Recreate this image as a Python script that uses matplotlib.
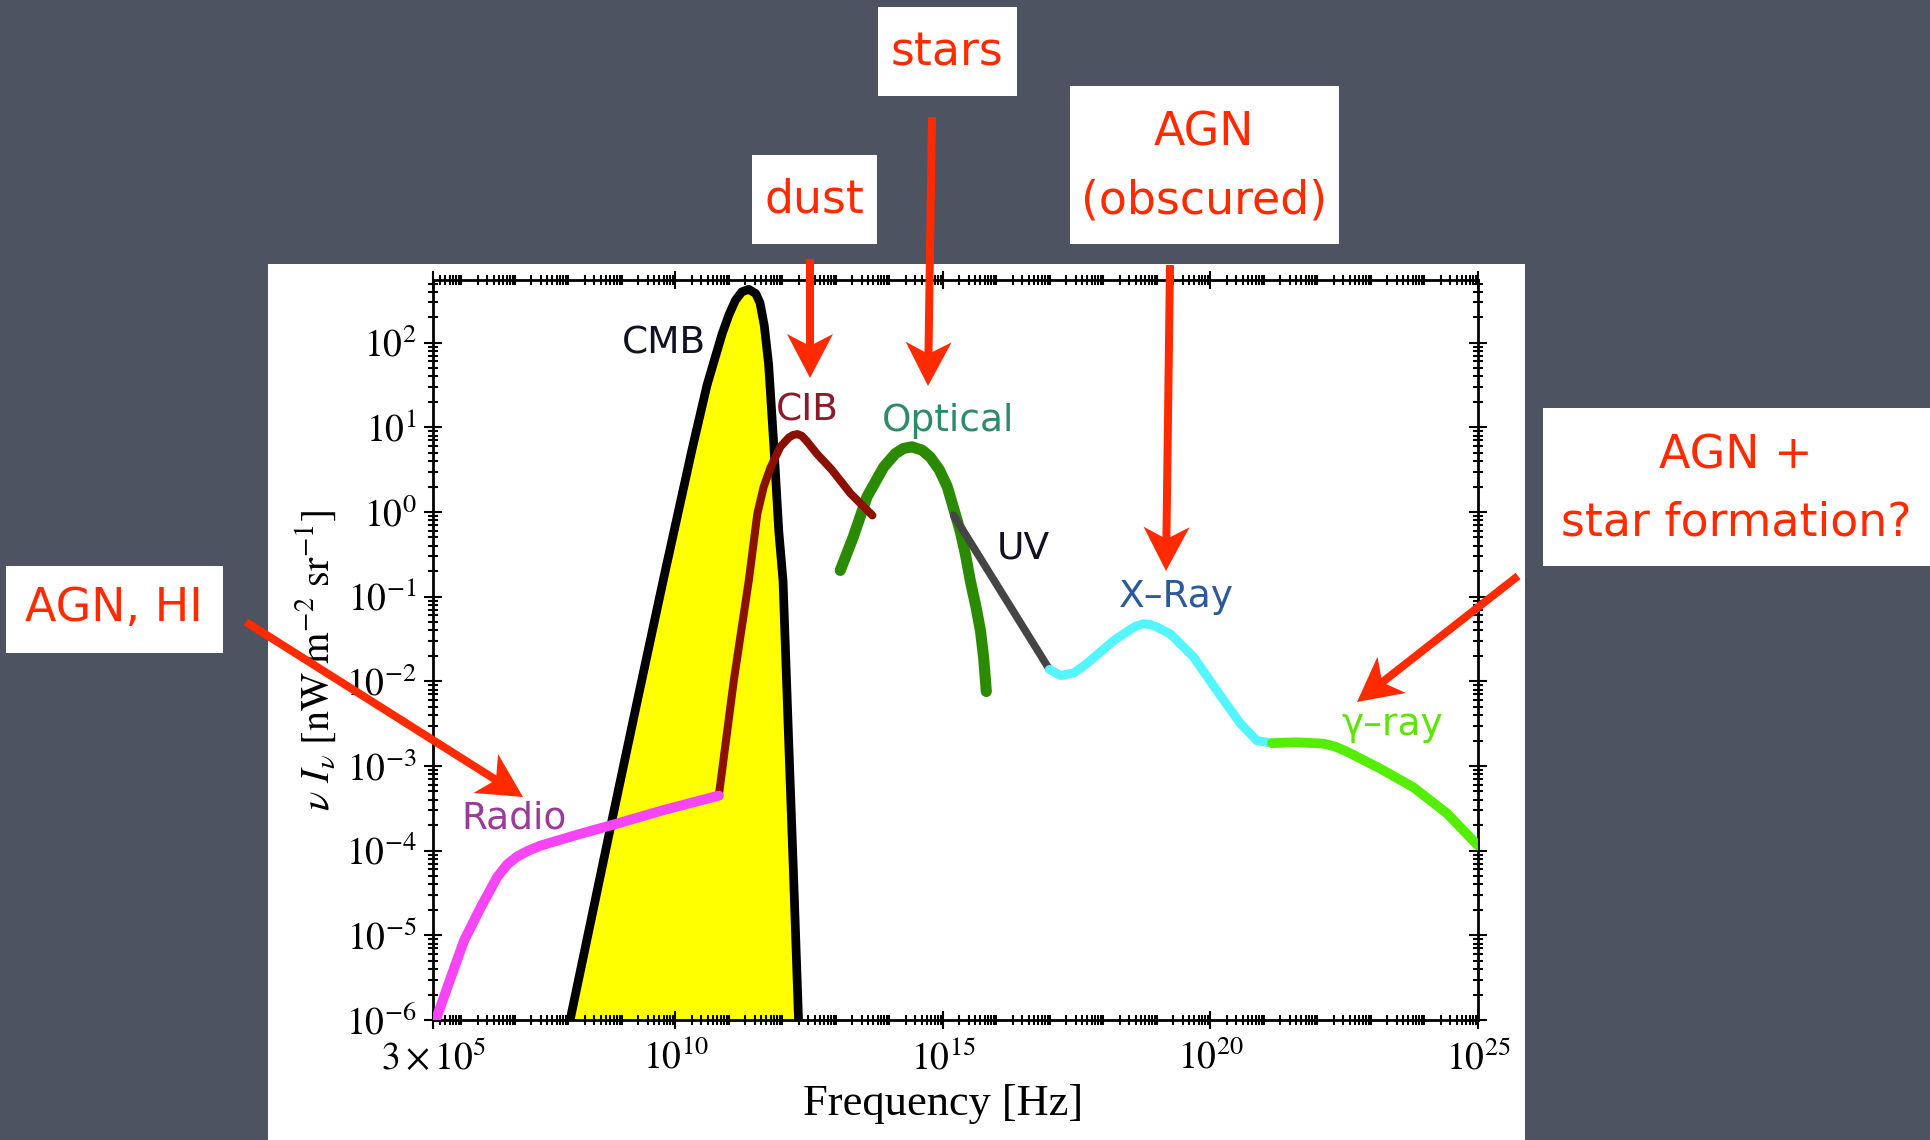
import numpy as np
import matplotlib
matplotlib.use("Agg")
import matplotlib.pyplot as plt
from matplotlib.patches import Rectangle, Polygon
from matplotlib.lines import Line2D
from matplotlib.ticker import LogLocator, FixedLocator, FixedFormatter, NullFormatter

plt.rcParams['mathtext.fontset'] = 'stix'
plt.rcParams['font.family'] = ['DejaVu Sans']

# log10(frequency [Hz]) and log10(nu I_nu [nW m^-2 sr^-1])
radio_lognu = [5.52, 5.80, 6.05, 6.36, 6.67, 6.86, 7.04, 7.25, 7.48, 8.23, 8.91, 9.78, 10.81]
radio_logI = [-6.0, -5.50, -5.06, -4.67, -4.31, -4.16, -4.07, -4.00, -3.94, -3.80, -3.68, -3.52, -3.35]

cmb_lognu = [8.03, 8.82, 9.28, 9.78, 10.31, 10.59, 10.87, 11.00, 11.12, 11.24, 11.37, 11.50,
             11.58, 11.66, 11.74, 11.84, 11.93, 12.01, 12.12, 12.21, 12.30]
cmb_logI = [-6.0, -3.62, -2.25, -0.78, 0.74, 1.50, 2.10, 2.33, 2.50, 2.60, 2.63, 2.58,
            2.47, 2.20, 1.75, 0.77, -0.22, -0.81, -2.78, -4.35, -6.0]

cib_lognu = [10.81, 11.09, 11.37, 11.53, 11.65, 11.78, 11.96, 12.12, 12.20, 12.28, 12.36,
             12.45, 12.64, 12.92, 13.27, 13.68]
cib_logI = [-3.35, -1.99, -0.81, -0.02, 0.30, 0.53, 0.77, 0.88, 0.91, 0.92, 0.90,
            0.84, 0.69, 0.50, 0.22, -0.04]

opt_lognu = [13.08, 13.32, 13.58, 13.89, 14.11, 14.26, 14.42, 14.61, 14.76, 14.93, 15.08,
             15.20, 15.32, 15.42, 15.51, 15.62, 15.70, 15.76, 15.81]
opt_logI = [-0.69, -0.30, 0.18, 0.53, 0.69, 0.75, 0.77, 0.73, 0.65, 0.50, 0.30,
            0.04, -0.22, -0.50, -0.81, -1.13, -1.40, -1.72, -2.12]

uv_lognu = [15.20, 16.99]
uv_logI = [-0.04, -1.86]

xray_lognu = [16.99, 17.20, 17.45, 17.69, 18.19, 18.47, 18.60, 18.75, 18.88, 19.00, 19.25,
              19.68, 20.12, 20.56, 20.87, 21.15]
xray_logI = [-1.86, -1.93, -1.90, -1.79, -1.52, -1.40, -1.35, -1.32, -1.33, -1.36, -1.44,
             -1.71, -2.11, -2.50, -2.70, -2.73]

gamma_lognu = [21.15, 21.61, 22.11, 22.33, 22.55, 23.17, 23.79, 24.42, 25.0]
gamma_logI = [-2.73, -2.72, -2.735, -2.77, -2.83, -3.03, -3.25, -3.56, -3.94]

xtick_vals = [3e5, 1e10, 1e15, 1e20, 1e25]
xtick_labels = [r'$3\times10^{5}$', r'$10^{10}$', r'$10^{15}$', r'$10^{20}$', r'$10^{25}$']
ytick_vals = [1e-6, 1e-5, 1e-4, 1e-3, 1e-2, 1e-1, 1e0, 1e1, 1e2]
ytick_labels = [r'$10^{-6}$', r'$10^{-5}$', r'$10^{-4}$', r'$10^{-3}$', r'$10^{-2}$',
                r'$10^{-1}$', r'$10^{0}$', r'$10^{1}$', r'$10^{2}$']

W, H = 1931, 1140
RED = '#ff2a00'

fig = plt.figure(figsize=(W / 100, H / 100), dpi=100, facecolor='#4d5361')

# white slide panel behind the chart
fig.patches.append(Rectangle((268 / W, 0), (1525 - 268) / W, (1140 - 264) / H,
                             transform=fig.transFigure, facecolor='white',
                             edgecolor='none', zorder=-1))

ax = fig.add_axes([433.5 / W, 120 / H, 1044.5 / W, 740 / H])
ax.set_xscale('log')
ax.set_yscale('log')


def xy(lognu, logI):
    return 10 ** np.array(lognu), 10 ** np.array(logI)


x, y = xy(cmb_lognu, cmb_logI)
ax.fill_between(x, y, 1e-6, color='#ffff00', lw=0, zorder=1)
ax.plot(x, y, color='black', lw=6.3, solid_joinstyle='round', zorder=2)

for ln, li, col, lw in [(opt_lognu, opt_logI, '#2a8a00', 8.0),
                        (cib_lognu, cib_logI, '#8c1000', 5.8),
                        (uv_lognu, uv_logI, '#454545', 5.5),
                        (radio_lognu, radio_logI, '#f545f5', 7.2),
                        (xray_lognu, xray_logI, '#55f5ff', 6.5),
                        (gamma_lognu, gamma_logI, '#55ee00', 7.0)]:
    x, y = xy(ln, li)
    ax.plot(x, y, color=col, lw=lw, solid_capstyle='round',
            solid_joinstyle='round', zorder=3)

lab_kw = dict(ha='center', va='center', fontsize=27, zorder=4)
ax.text(10 ** 9.78, 10 ** 1.99, 'CMB', color='#111122', **lab_kw)
ax.text(10 ** 12.46, 10 ** 1.20, 'CIB', color='#8b1a2a', **lab_kw)
ax.text(10 ** 15.09, 10 ** 1.08, 'Optical', color='#2e8b6a', **lab_kw)
ax.text(10 ** 16.51, 10 ** -0.43, 'UV', color='#111122', **lab_kw)
ax.text(10 ** 19.37, 10 ** -1.00, 'X\u2013Ray', color='#2a5a9c', **lab_kw)
ax.text(10 ** 23.39, 10 ** -2.52, '\u03b3\u2013ray', color='#5ae600', **lab_kw)
ax.text(10 ** 6.99, 10 ** -3.62, 'Radio', color='#9a3a9a', **lab_kw)

ax.set_xlim(3e5, 1e25)
ax.set_ylim(1e-6, 5.5e2)

ax.xaxis.set_major_locator(FixedLocator(xtick_vals))
ax.xaxis.set_major_formatter(FixedFormatter(xtick_labels))
ax.xaxis.set_minor_locator(LogLocator(base=10, subs=np.arange(1, 10), numticks=1000))
ax.xaxis.set_minor_formatter(NullFormatter())
ax.yaxis.set_major_locator(FixedLocator(ytick_vals))
ax.yaxis.set_major_formatter(FixedFormatter(ytick_labels))
ax.yaxis.set_minor_locator(LogLocator(base=10, subs=np.arange(2, 10), numticks=1000))
ax.yaxis.set_minor_formatter(NullFormatter())

ax.tick_params(which='both', direction='inout', top=True, right=True, width=1.5)
ax.tick_params(which='major', length=13, labelsize=27)
ax.tick_params(which='minor', length=7)
ax.tick_params(axis='x', which='major', pad=8)
ax.tick_params(axis='y', which='major', pad=6)
for s in ax.spines.values():
    s.set_linewidth(2.0)

ax.set_xlabel('Frequency [Hz]', fontsize=32, family=['Liberation Serif', 'DejaVu Serif'])
ax.xaxis.set_label_coords(0.488, -0.087)
ax.set_ylabel(r'$\nu\ I_{\nu}\ [\mathrm{nW\ m^{-2}\ sr^{-1}}]$', fontsize=29)
ax.yaxis.set_label_coords(-0.09, 0.486)


# annotation boxes on the slide
def box(x0, y0, x1, y1):
    fig.patches.append(Rectangle((x0 / W, 1 - y1 / H), (x1 - x0) / W, (y1 - y0) / H,
                                 transform=fig.transFigure, facecolor='white',
                                 edgecolor='none', zorder=5))


def label(cx, cy, s):
    fig.text(cx / W, 1 - cy / H, s, ha='center', va='center', color=RED,
             fontsize=33, zorder=6)


def arrow(x0, y0, x1, y1, head_len=44, head_w=46, notch=12, lw_px=8):
    L = np.hypot(x1 - x0, y1 - y0)
    ux, uy = (x1 - x0) / L, (y1 - y0) / L
    nx, ny = -uy, ux
    bx, by = x1 - ux * head_len, y1 - uy * head_len
    mx, my = x1 - ux * (head_len - notch), y1 - uy * (head_len - notch)
    fig.add_artist(Line2D([x0 / W, mx / W], [1 - y0 / H, 1 - my / H], color=RED,
                          lw=lw_px * 0.72, solid_capstyle='butt', zorder=6))
    pts = [(x1, y1), (bx + nx * head_w / 2, by + ny * head_w / 2), (mx, my),
           (bx - nx * head_w / 2, by - ny * head_w / 2)]
    fig.patches.append(Polygon([(px / W, 1 - py / H) for px, py in pts], closed=True,
                               transform=fig.transFigure, facecolor=RED,
                               edgecolor='none', zorder=6))


box(878, 7, 1017, 96)
label(947, 53, 'stars')
box(752, 155, 877, 244)
label(814, 200, 'dust')
box(1070, 86, 1339, 244)
label(1204, 133, 'AGN')
label(1204, 201, '(obscured)')
box(1543, 408, 1931, 566)
label(1736, 456, 'AGN +')
label(1736, 523, 'star formation?')
box(6, 566, 223, 653)
label(114, 608, 'AGN, HI')

arrow(810, 259, 810, 378)
arrow(932, 117, 928, 386)
arrow(1170, 265, 1166, 571)
arrow(1518, 576, 1357, 702)
arrow(246, 622, 523, 797)

fig.savefig('out.png', dpi=100, facecolor=fig.get_facecolor())
